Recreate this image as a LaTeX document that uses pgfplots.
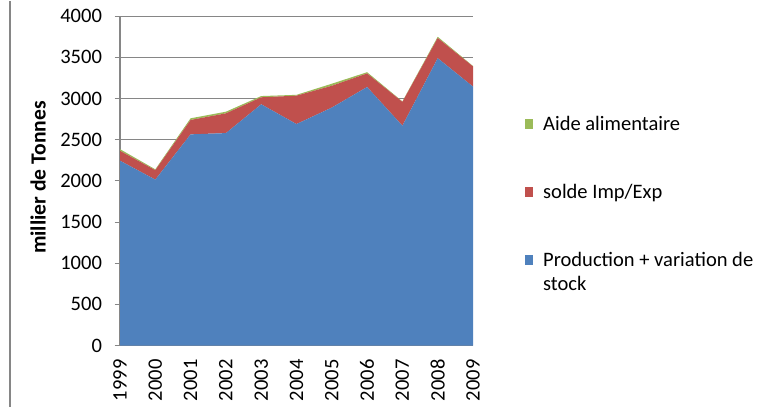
\documentclass[border=0pt]{standalone}
\usepackage{pgfplots}
\pgfplotsset{compat=1.18}
\usepackage{fontspec}
\setmainfont{Carlito}
\definecolor{cblue}{RGB}{79,129,189}
\definecolor{cred}{RGB}{192,80,77}
\definecolor{cgreen}{RGB}{155,187,89}
\definecolor{cgrid}{RGB}{134,134,134}
\pgfplotsset{shiftedimg/.style={legend image code/.code={\fill[##1] (0pt,5.5pt) rectangle (6pt,13pt);}}}
\pgfplotstableread{
x prod solde aide
0 2245 120 20
1 2015 115 10
2 2565 175 20
3 2580 240 20
4 2930 85 15
5 2690 345 10
6 2890 265 25
7 3140 165 15
8 2670 290 5
9 3490 245 15
10 3145 245 5
}\datatable
\begin{document}
\begin{tikzpicture}
\path (0,0) rectangle (574.5pt,306pt);
\draw[cgrid, line width=0.8pt] (7.5pt,1.5pt) -- (7.5pt,306pt);
\begin{axis}[
  scale only axis,
  anchor=south west,
  at={(90pt,47.25pt)},
  width=264.75pt, height=247pt,
  xmin=0, xmax=10, ymin=0, ymax=4000,
  stack plots=y,
  font=\fontsize{15.4}{18}\selectfont,
  /pgf/number format/assume math mode=true,
  /pgf/number format/1000 sep={},
  xtick=data,
  xticklabels={1999,2000,2001,2002,2003,2004,2005,2006,2007,2008,2009},
  xticklabel style={rotate=90, anchor=east, yshift=0pt, xshift=-3pt},
  ytick={0,500,...,4000},
  ymajorgrids,
  grid style={cgrid, line width=0.8pt},
  axis x line*=bottom, axis y line*=left,
  axis line style={cgrid, line width=0.8pt, -},
  tick align=outside,
  y tick style={cgrid, line width=0.8pt},
  x tick style={draw=none},
  major tick length=4pt,
  yticklabel style={xshift=-6pt},
  ylabel={\fontsize{16.2}{19}\selectfont\bfseries millier de Tonnes},
  ylabel style={at={(axis description cs:-0.232,0.51)}, anchor=center, rotate=0},
  reverse legend,
  legend cell align=left,
  legend style={draw=none, fill=none, inner sep=0pt, at={(rel axis cs:1.147,0.706)}, anchor=north west,
    row sep=35pt, nodes={align=left, inner xsep=0pt},
    /tikz/every odd column/.append style={column sep=7.5pt}},
  legend image code/.code={\fill[#1] (0pt,-3.5pt) rectangle (6pt,4pt);},
  clip=false,
]
\addplot[fill=cblue, draw=none, shiftedimg] table[x=x, y=prod] {\datatable} \closedcycle;
\addlegendentry{Production + variation de\\stock}
\addplot[fill=cred, draw=none] table[x=x, y=solde] {\datatable} \closedcycle;
\addlegendentry{solde Imp/Exp}
\addplot[fill=cgreen, draw=none] table[x=x, y=aide] {\datatable} \closedcycle;
\addlegendentry{Aide alimentaire}
\end{axis}
\end{tikzpicture}
\end{document}
